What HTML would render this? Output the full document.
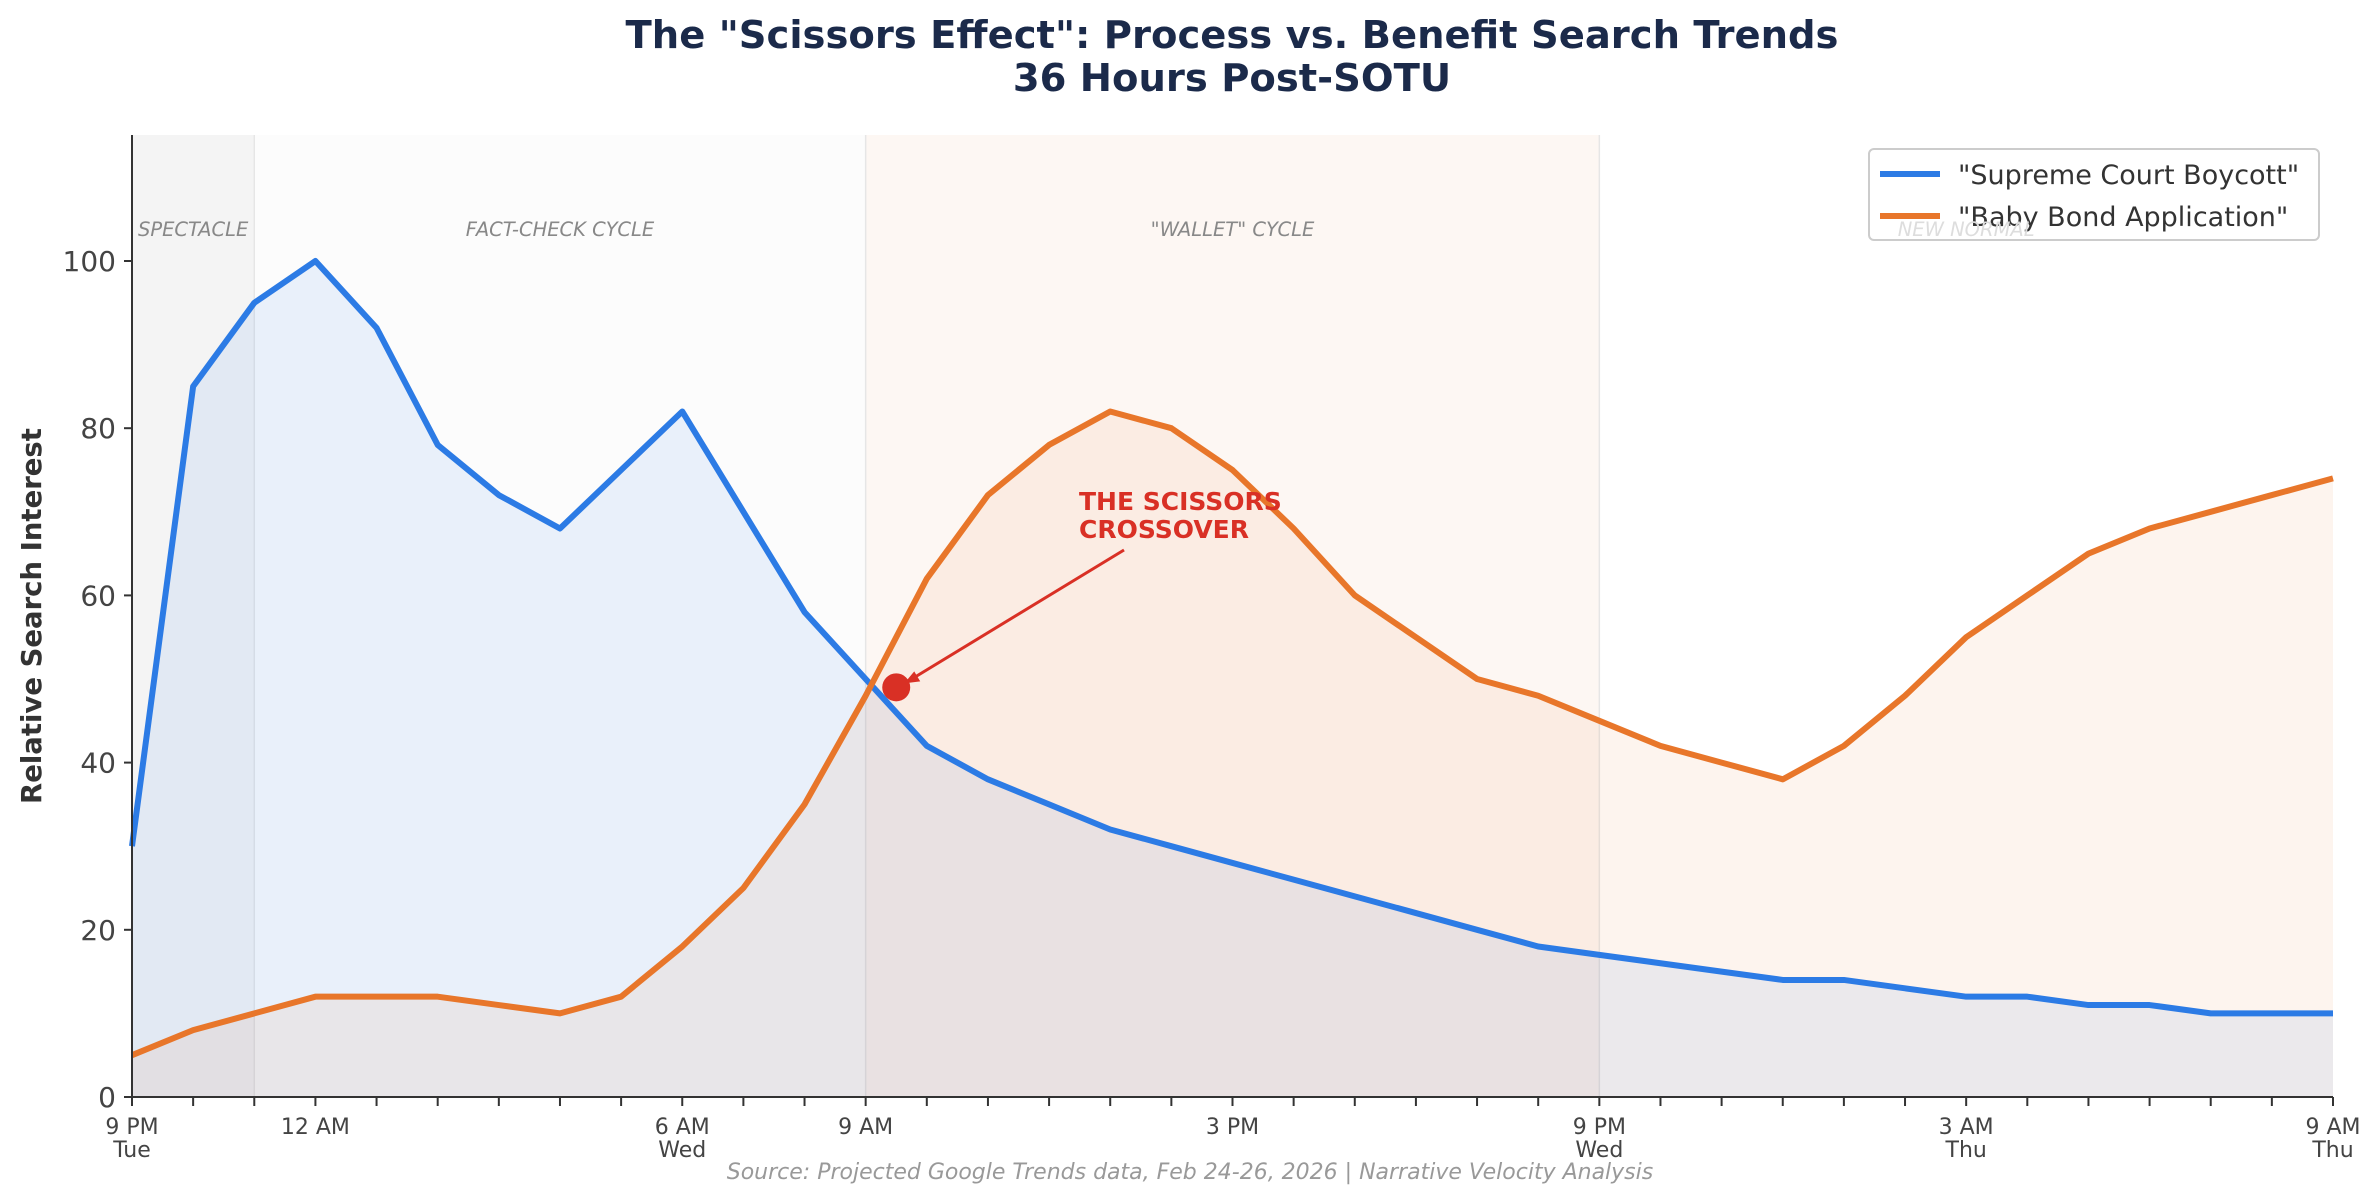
<!DOCTYPE html>
<html><head><meta charset="utf-8"><style>
html,body{margin:0;padding:0;background:#fff;}
svg{display:block;font-family:"DejaVu Sans","Liberation Sans",sans-serif;}
</style></head><body>
<svg id="chart" width="2380" height="1203" viewBox="0 0 2380 1203">
<text x="1232" y="48" text-anchor="middle" font-size="38.5" font-weight="bold" fill="#1b2a4a">The "Scissors Effect": Process vs. Benefit Search Trends</text>
<text x="1232" y="91" text-anchor="middle" font-size="38.5" font-weight="bold" fill="#1b2a4a">36 Hours Post-SOTU</text>
<g id="plot"></g>
<text transform="translate(41,616) rotate(-90)" text-anchor="middle" font-size="27.5" font-weight="bold" fill="#333">Relative Search Interest</text>
<text x="1190" y="1179" text-anchor="middle" font-size="22" font-style="italic" fill="#999">Source: Projected Google Trends data, Feb 24-26, 2026 | Narrative Velocity Analysis</text>
</svg>
<script>
const hours = [0,1,2,3,4,5,6,7,8,9,10,11,12,13,14,15,16,17,18,19,20,21,22,23,24,25,26,27,28,29,30,31,32,33,34,35,36];
const boycott = [30,85,95,100,92,78,72,68,75,82,70,58,50,42,38,35,32,30,28,26,24,22,20,18,17,16,15,14,14,13,12,12,11,11,10,10,10];
const babyBond = [5,8,10,12,12,12,11,10,12,18,25,35,48,62,72,78,82,80,75,68,60,55,50,48,45,42,40,38,42,48,55,60,65,68,70,72,74];
const yTicks = [0,20,40,60,80,100];
const xTickHours = [0,3,9,12,18,24,30,36];
const xTickLabels = [["9 PM","Tue"],["12 AM",""],["6 AM","Wed"],["9 AM",""],["3 PM",""],["9 PM","Wed"],["3 AM","Thu"],["9 AM","Thu"]];
const phaseStarts = [0,2,12,24];
const phaseEnds = [2,12,24,36];
const phaseNames = ["SPECTACLE","FACT-CHECK CYCLE","\"WALLET\" CYCLE","NEW NORMAL"];
const crossover = [12.5,49];

const NS="http://www.w3.org/2000/svg";
const X0=132,X1=2333,Y0=1097,Y100=261,TOP=135;
const x=h=>X0+(X1-X0)*h/36;
const y=v=>Y0-(Y0-Y100)*v/100;
const g=document.getElementById('plot');
function mk(t,a,p){const e=document.createElementNS(NS,t);for(const k in a)e.setAttribute(k,a[k]);(p||g).appendChild(e);return e;}

const phaseFill=["#f4f4f4","#fcfcfc","#fdf7f3","#ffffff"];
const phaseTextColor=["#888","#888","#888","#ddd"];
phaseStarts.forEach((s,i)=>{
  const r=mk('rect',{x:x(s),y:TOP,width:x(phaseEnds[i])-x(s),height:Y0-TOP,fill:phaseFill[i]});
  
  
  if(i>0){const l=mk('line',{x1:x(s),x2:x(s),y1:TOP,y2:Y0,stroke:'#e6e6e6','stroke-width':1.5});
  
  }
});
function area(vals,col,name){
  let d='M'+x(hours[0])+','+y(0);
  hours.forEach((h,i)=>d+='L'+x(h)+','+y(vals[i]));
  d+='L'+x(hours[hours.length-1])+','+y(0)+'Z';
  const p=mk('path',{d:d,fill:col});
  
  
}
function line(vals,col,name){
  const pts=hours.map((h,i)=>x(h)+','+y(vals[i])).join(' ');
  const p=mk('polyline',{points:pts,fill:'none',stroke:col,'stroke-width':6,'stroke-linejoin':'round'});
  
  
}
area(boycott,'rgba(44,123,229,0.09)','boycott-area');
area(babyBond,'rgba(232,118,42,0.08)','baby-bond-area');
line(boycott,'#2c7be5','boycott-line');
line(babyBond,'#e8762a','baby-bond-line');

// axes
const ax=mk('line',{x1:X0,x2:X0,y1:TOP,y2:Y0,stroke:'#333','stroke-width':2});


const bx=mk('line',{x1:X0,x2:X1,y1:Y0,y2:Y0,stroke:'#333','stroke-width':2});


yTicks.forEach(v=>{
  const tk=mk('line',{x1:X0-8,x2:X0,y1:y(v),y2:y(v),stroke:'#333','stroke-width':2});
  
  
  const t=mk('text',{x:X0-16,y:y(v)+10,'text-anchor':'end','font-size':28,fill:'#444'});
  t.textContent=v;
  
  
});
hours.forEach(h=>{
  const tk=mk('line',{x1:x(h),x2:x(h),y1:Y0,y2:Y0+9,stroke:'#333','stroke-width':2});
  
  
});
xTickHours.forEach((h,i)=>{
  const t=mk('text',{x:x(h),y:Y0+37,'text-anchor':'middle','font-size':22,fill:'#444'});
  t.textContent=xTickLabels[i][0];
  
  
  if(xTickLabels[i][1]){const t2=mk('text',{x:x(h),y:Y0+60,'text-anchor':'middle','font-size':22,fill:'#444'});
  t2.textContent=xTickLabels[i][1];
  
  }
});

// crossover annotation
const cx=x(crossover[0]),cy=y(crossover[1]);
const dot=mk('circle',{cx:cx,cy:cy,r:14,fill:'#d93025'});


const ar=mk('line',{x1:1124,y1:550,x2:cx+10,y2:cy-5,stroke:'#d93025','stroke-width':3});


const ah=mk('path',{d:`M${cx+8},${cy-4} l16,-2 l-6,-10 z`,fill:'#d93025'});


const a1=mk('text',{x:1079,y:510,'font-size':25,'font-weight':'bold',fill:'#d93025'});
a1.textContent='THE SCISSORS';


const a2=mk('text',{x:1079,y:538,'font-size':25,'font-weight':'bold',fill:'#d93025'});
a2.textContent='CROSSOVER';



// legend
const lg=mk('g',{});


mk('rect',{x:1869,y:149,width:450,height:91,rx:5,fill:'rgba(255,255,255,0.85)',stroke:'#ccc','stroke-width':2},lg);
const le=[["\"Supreme Court Boycott\"",'#2c7be5'],["\"Baby Bond Application\"",'#e8762a']];
le.forEach((e,i)=>{
  const ly=174+i*42;
  const l=mk('line',{x1:1880,x2:1940,y1:ly,y2:ly,stroke:e[1],'stroke-width':6},lg);
  
  
  const t=mk('text',{x:1958,y:ly+10,'font-size':27,fill:'#333'},lg);
  t.textContent=e[0];
  
  
});
// phase labels (drawn after legend so faint label shows through like reference)
phaseStarts.forEach((s,i)=>{
  const t=mk('text',{x:(x(s)+x(phaseEnds[i]))/2,y:236,'text-anchor':'middle','font-size':19.5,'font-style':'italic',fill:phaseTextColor[i]});
  t.textContent=phaseNames[i];
  
  
});
</script>
</body></html>
